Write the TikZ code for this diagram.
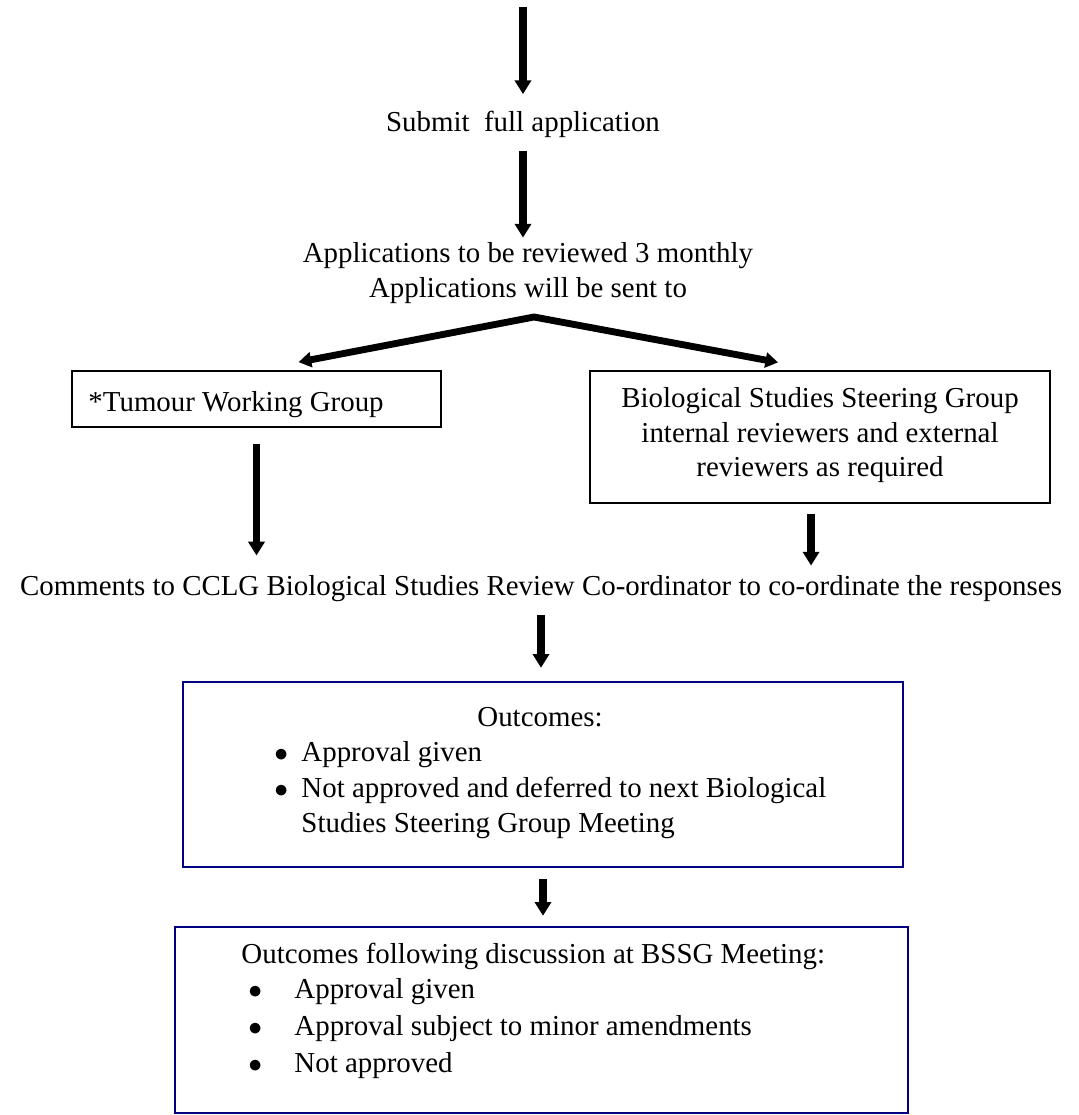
\documentclass[tikz,border=0pt]{standalone}
\usepackage{fontspec}
\setmainfont{Liberation Serif}
\usetikzlibrary{arrows.meta, fit}

\begin{document}
\begin{tikzpicture}[x=0.436pt, y=-0.436pt,
    every node/.style={inner sep=0pt, font=\fontsize{12.6}{14}\selectfont},
    txt/.style={anchor=base},
    txtleft/.style={anchor=base west},
    greybox/.style={draw=black, line width=0.7pt},
    navybox/.style={draw=navyColour, line width=1pt},
    flow/.style={line width=3.3pt, -{Triangle[width=7pt,length=6pt]}},
    branch/.style={line width=3pt, {Triangle[width=6.5pt,length=5.5pt]}-{Triangle[width=6.5pt,length=5.5pt]}}]

    \definecolor{navyColour}{HTML}{000080}

    % Page size of the reference
    \useasboundingbox (0,0) rectangle (1078,1115);

    % Start of the chain and the fork
    \coordinate (start) at (523,7);
    \coordinate (fork) at (534,317);

    % Top texts
    \node[txt] (submit) at (523,131) {Submit~ full application};
    \node[txt] (review1) at (528,262) {Applications to be reviewed 3 monthly};
    \node[txt] (review2) at (528,297) {Applications will be sent to};

    % Reviewing groups
    \node[greybox, fit={(72,371) (441,427)}] (twgbox) {};
    \node[txtleft] (twg) at (88,411) {*Tumour Working Group};

    \node[greybox, fit={(590,371) (1050,503)}] (bssgbox) {};
    \node[txt] (bssg1) at (820,407) {Biological Studies Steering Group};
    \node[txt] (bssg2) at (820,442) {internal reviewers and external};
    \node[txt] (bssg3) at (820,476) {reviewers as required};

    % Comments line
    \node[txt] (comments) at (541,595) {Comments to CCLG Biological Studies Review Co-ordinator to co-ordinate the responses};

    % First outcomes box
    \node[navybox, fit={(183,682) (903,867)}] (outbox) {};
    \node[txt] (outtitle) at (540,726) {Outcomes:};
    \node[txtleft] (outbul1) at (274,761) {$\bullet$};
    \node[txtleft] (outitem1) at (301,761) {Approval given};
    \node[txtleft] (outbul2) at (274,797) {$\bullet$};
    \node[txtleft] (outitem2) at (301,797) {Not approved and deferred to next Biological};
    \node[txtleft] (outitem3) at (301,832) {Studies Steering Group Meeting};

    % Second outcomes box
    \node[navybox, fit={(175,927) (908,1113)}] (bsgbox) {};
    \node[txtleft] (bsgtitle) at (241,963) {Outcomes following discussion at BSSG Meeting:};
    \foreach \outcome [count=\i] in {Approval given, Approval subject to minor amendments, Not approved} {
        \node[txtleft] (bsgbul\i) at (248,961+37*\i) {$\bullet$};
        \node[txtleft] (bsgitem\i) at (294,961+37*\i) {\outcome};
    }

    % Arrows
    \draw[flow, shorten >=7pt] (start) -- (submit);
    \draw[flow, shorten <=6pt, shorten >=1.7pt] (submit.south) -- (submit.south |- review1.north);
    \draw[branch, shorten <=18.7pt, shorten >=18.6pt] (twgbox.north) -- (fork) -- (bssgbox.north);
    \draw[flow, shorten <=7pt, shorten >=8.3pt] (twgbox.south) -- (twgbox.south |- comments.north);
    \draw[flow, shorten <=4.4pt, shorten >=3.9pt] ([xshift=-3.9pt]bssgbox.south) -- ([xshift=-3.9pt]bssgbox.south |- comments.north);
    \draw[flow, shorten <=5.7pt, shorten >=5.7pt] (comments.south) -- (comments.south |- outbox.north);
    \draw[flow, shorten <=4.8pt, shorten >=4.4pt] (outbox.south) -- (outbox.south |- bsgbox.north);

\end{tikzpicture}
\end{document}
